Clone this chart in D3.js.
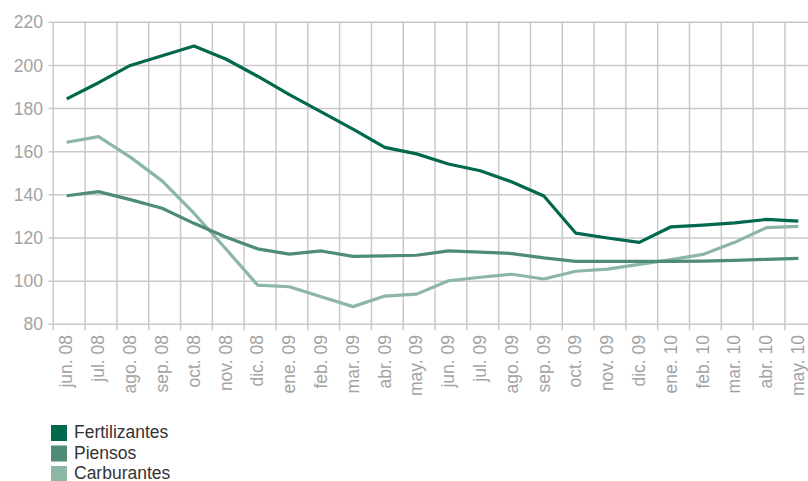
<!DOCTYPE html>
<html>
<head>
<meta charset="utf-8">
<script src="https://cdn.jsdelivr.net/npm/d3@7"></script>
<style>
  body { margin: 0; background: #fff; }
  svg { display: block; font-family: "Liberation Sans", Arial, sans-serif; }
</style>
</head>
<body>
<svg id="chart" width="808" height="481"></svg>
<script>
// months on the x axis
var months = ['jun. 08','jul. 08','ago. 08','sep. 08','oct. 08','nov. 08','dic. 08','ene. 09',
  'feb. 09','mar. 09','abr. 09','may. 09','jun. 09','jul. 09','ago. 09','sep. 09',
  'oct. 09','nov. 09','dic. 09','ene. 10','feb. 10','mar. 10','abr. 10','may. 10'];

// series values
var fertilizantes = [184.5,192,200,204.5,209,203,195,186.5,178.5,170.5,162,159,
  154.3,151.2,146,139.5,122.3,120,118,125.2,126,127,128.6,127.8];
var piensos = [139.6,141.5,137.8,133.8,126.8,120.5,115,112.5,114,111.5,111.7,112,
  114,113.5,112.8,110.8,109.2,109.2,109.2,109.2,109.3,109.6,110.1,110.6];
var carburantes = [164.4,167,157.5,146.5,131.5,115,98.2,97.4,92.8,88.2,93.1,94,
  100.2,101.8,103.2,101,104.6,105.6,107.8,110,112.4,118,124.8,125.4];

var yTicks = [80,100,120,140,160,180,200,220];

var series = [
  {name: 'Fertilizantes', values: fertilizantes, color: '#00684d'},
  {name: 'Piensos', values: piensos, color: '#4f8c76'},
  {name: 'Carburantes', values: carburantes, color: '#8bb7a4'}
];

var svg = d3.select('#chart');
var left = 53.3, step = 31.81;

// band for each month, grid lines sit on band edges
var x = d3.scaleBand().domain(months).range([left, left + step * months.length]);
var px = function(m) { return x(m) + 13.4; };   // points sit a bit left of band centre
var y = d3.scaleLinear().domain([80, 220]).range([324.3, 22.3]);

var grid = svg.append('g').attr('stroke', '#c9c9c9').attr('stroke-width', 1.5);

// horizontal grid
grid.selectAll('.h').data(yTicks).enter().append('line')
  .attr('x1', left - 5).attr('x2', 808)
  .attr('y1', function(d) { return y(d); }).attr('y2', function(d) { return y(d); });

// vertical grid + small ticks under the axis
grid.selectAll('.v').data(months).enter().append('line')
  .attr('x1', function(d) { return x(d); }).attr('x2', function(d) { return x(d); })
  .attr('y1', y(220)).attr('y2', y(80) + 6);

// y labels
svg.selectAll('.yl').data(yTicks).enter().append('text')
  .attr('x', 43).attr('y', function(d) { return y(d); })
  .attr('dy', '0.35em').attr('text-anchor', 'end')
  .attr('font-size', 17.5).attr('fill', '#a3a3a3')
  .text(function(d) { return d; });

// x labels, rotated
svg.selectAll('.xl').data(months).enter().append('text')
  .attr('transform', function(d) { return 'translate(' + px(d) + ',335) rotate(-90)'; })
  .attr('dy', '0.33em').attr('text-anchor', 'end')
  .attr('font-size', 17.5).attr('fill', '#a3a3a3')
  .text(function(d) { return d; });

// lines, drawn light to dark so the dark one is on top
var line = d3.line()
  .x(function(d, i) { return px(months[i]); })
  .y(function(d) { return y(d); });

svg.selectAll('.series').data(series.slice().reverse()).enter().append('path')
  .attr('d', function(d) { return line(d.values); })
  .attr('fill', 'none')
  .attr('stroke', function(d) { return d.color; })
  .attr('stroke-width', 3.2)
  .attr('stroke-linejoin', 'round');

// legend
var leg = svg.selectAll('.leg').data(series).enter().append('g')
  .attr('transform', function(d, i) { return 'translate(51,' + (425 + i * 20.5) + ')'; });
leg.append('rect').attr('width', 16).attr('height', 16)
  .attr('fill', function(d) { return d.color; });
leg.append('text').attr('x', 23).attr('y', 13)
  .attr('font-size', 17.5).attr('fill', '#333')
  .text(function(d) { return d.name; });
</script>
</body>
</html>
